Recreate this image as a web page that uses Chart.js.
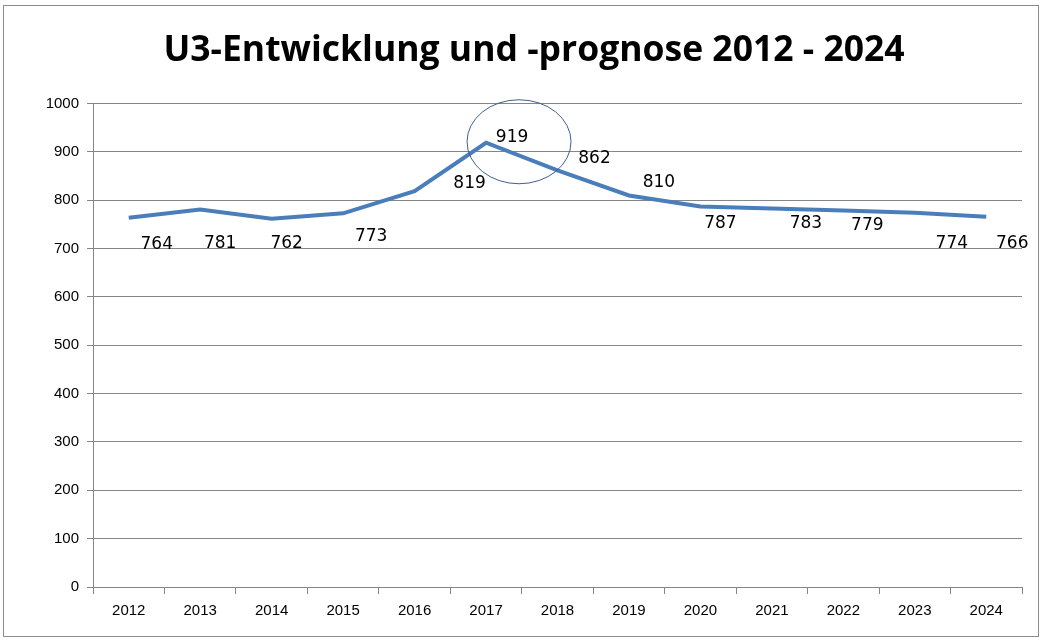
<!DOCTYPE html>
<html><head><meta charset="utf-8">
<script src="https://cdn.jsdelivr.net/npm/chart.js@4/dist/chart.umd.min.js"></script>
<style>
html,body{margin:0;padding:0;background:#fff;}
#wrap{position:relative;width:1047px;height:642px;}
#frame{position:absolute;left:3px;top:5px;width:1036px;height:632px;border:1px solid #8c8c8c;box-sizing:border-box;pointer-events:none;}
canvas{position:absolute;left:0;top:0;}
</style></head>
<body><div id="wrap"><canvas id="c" width="1047" height="642"></canvas><div id="frame"></div></div>
<script>
const years = ["2012","2013","2014","2015","2016","2017","2018","2019","2020","2021","2022","2023","2024"];
const values = [764,781,762,773,819,919,862,810,787,783,779,774,766];
const yTicks = [0,100,200,300,400,500,600,700,800,900,1000];
const titleText = "U3-Entwicklung und -prognose 2012 - 2024";
const highlightIndex = 5;

// label placement offsets (pixels relative to point)
const labelOffsets = [[28,27],[20,34],[15,25],[28,23],[55,-8],[26,-5],[37,-12],[30,-13],[20,17],[34,15],[24,15],[37,31],[26,27]];

const labelPlugin = {
  id:'labels',
  afterDatasetsDraw(chart){
    const ctx = chart.ctx;
    const meta = chart.getDatasetMeta(0);
    ctx.save();
    ctx.font = '17px "DejaVu Sans", sans-serif';
    ctx.fillStyle = '#000';
    ctx.textAlign = 'center';
    ctx.textBaseline = 'middle';
    meta.data.forEach((pt,i)=>{
      const o = labelOffsets[i];
      ctx.fillText(String(values[i]), pt.x+o[0], pt.y+o[1]);
    });
    // ellipse around highlighted point
    const p = meta.data[highlightIndex];
    ctx.strokeStyle = '#3d5f8c';
    ctx.lineWidth = 1;
    ctx.beginPath();
    ctx.ellipse(p.x+33, p.y-1, 52, 42, 0, 0, Math.PI*2);
    ctx.stroke();
    ctx.restore();
  }
};

new Chart(document.getElementById('c'), {
  type:'line',
  data:{labels:years, datasets:[{data:values, borderColor:'#4a7ebb', borderWidth:4, pointRadius:0, tension:0, fill:false}]},
  options:{
    responsive:false, animation:false,
    layout:{padding:{left:46,right:25,top:0,bottom:14}},
    plugins:{
      legend:{display:false}, tooltip:{enabled:false},
      title:{display:true, text:titleText, color:'#000', font:{family:'"Open Sans", sans-serif', size:35.5, weight:'bold'}, padding:{top:30,bottom:31}}
    },
    scales:{
      x:{offset:true,
        grid:{offset:true, drawOnChartArea:false, color:'#868686', tickLength:7},
        border:{color:'#868686'},
        ticks:{color:'#000', font:{family:'"Liberation Sans", sans-serif', size:15}, padding:8, maxRotation:0, autoSkip:false}
      },
      y:{min:0,max:1000,
        afterBuildTicks(s){ s.ticks = yTicks.map(v=>({value:v})); },
        afterFit(s){ s.width = 47; },
        grid:{color:'#868686', tickLength:6},
        border:{color:'#868686'},
        ticks:{color:'#000', font:{family:'"Liberation Sans", sans-serif', size:15}, padding:8, callback:(v)=>String(v)}
      }
    }
  },
  plugins:[labelPlugin]
});
</script></body></html>
